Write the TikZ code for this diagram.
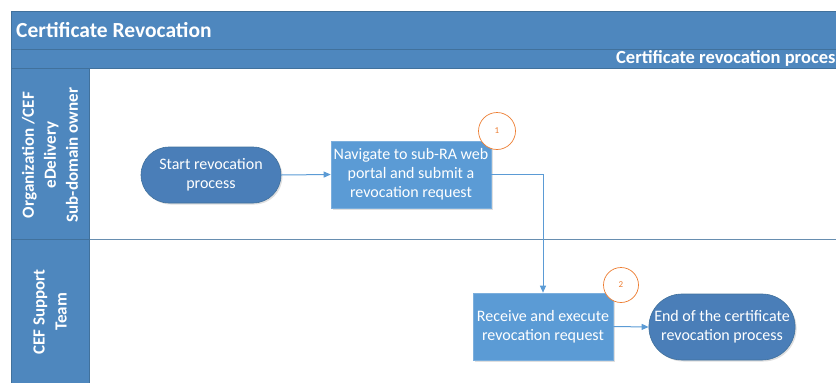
\documentclass[tikz,border=0pt]{standalone}
\usepackage{fontspec}
\setmainfont{Carlito}
\usetikzlibrary{arrows.meta,shadows,shapes.misc}
\definecolor{barblue}{HTML}{4E87BE}
\definecolor{barline}{HTML}{41719C}
\definecolor{boxblue}{HTML}{5B9BD5}
\definecolor{termblue}{HTML}{4A7EB8}
\definecolor{orng}{HTML}{ED7D31}
\begin{document}
\begin{tikzpicture}[x=1pt,y=-1pt,
  bar/.style={fill=barblue,draw=barline,line width=0.8pt},
  lanetxt/.style={text=white,font=\fontsize{17}{22}\selectfont\bfseries,align=center,rotate=90},
  procbox/.style={rectangle,fill=boxblue,draw=boxblue!80!white,line width=0.6pt,text=white,align=center,
     minimum width=160pt,minimum height=67pt,inner sep=2pt,font=\fontsize{16}{19}\selectfont,
     drop shadow={shadow xshift=1.5pt,shadow yshift=-1.5pt,opacity=0.25}},
  term/.style={rounded rectangle,fill=termblue,draw=barline,line width=0.6pt,text=white,align=center,
     font=\fontsize{16}{19}\selectfont,inner sep=1pt,drop shadow={shadow xshift=1.5pt,shadow yshift=-1.5pt,opacity=0.25}},
  marker/.style={circle,draw=orng,line width=0.7pt,fill=white,text=orng,minimum size=37pt,inner sep=0pt,
     font=\fontsize{9}{10}\selectfont},
  flow/.style={draw=boxblue,line width=1pt,-{Triangle[length=7pt,width=6pt]}}
]
\useasboundingbox (0,0) rectangle (836,383);
\begin{scope}
\clip (0,0) rectangle (836,383);
% lane separator
\draw[barline!80!white,line width=0.8pt] (89,239) -- (840,239);
% title bar
\draw[bar] (11,11) rectangle (845,49);
\node[anchor=west,text=white,font=\fontsize{21.5}{24}\selectfont\bfseries,inner sep=0pt] (title) at (16,30) {Certificate Revocation};
% phase bar
\draw[bar] (11,49) rectangle (845,68);
\node[anchor=west,text=white,font=\fontsize{18.5}{20}\selectfont\bfseries,inner sep=0pt] (phase) at (616,58.5) {Certificate revocation process};
% lane headers
\draw[bar] (11,68) rectangle (89,239);
\draw[bar] (11,239) rectangle (89,390);
\end{scope}
\node[lanetxt] (lane1) at (50,155) {Organization /CEF\\eDelivery\\Sub-domain owner};
\node[lanetxt] (lane2) at (50,312) {CEF Support\\Team};
% nodes
\node[term,minimum width=142pt,minimum height=56pt] (start) at (211,175) {Start revocation\\process};
\node[procbox] (nav) at (411,174.5) {Navigate to sub-RA web\\portal and submit a\\revocation request};
\node[procbox,minimum width=140pt] (recv) at (543,326.5) {Receive and execute\\revocation request};
\node[term,minimum width=143pt,minimum height=66pt] (end) at (722,327) {End of the certificate\\revocation process};
\node[marker] (m1) at (497,131) {1};
\node[marker,minimum size=35pt] (m2) at (621,285) {2};
% connectors
\draw[flow] (start.east) -- (nav.west);
\draw[flow] (nav.east) -| (recv.north);
\draw[flow] (recv.east) -- (end.west);
\end{tikzpicture}
\end{document}
